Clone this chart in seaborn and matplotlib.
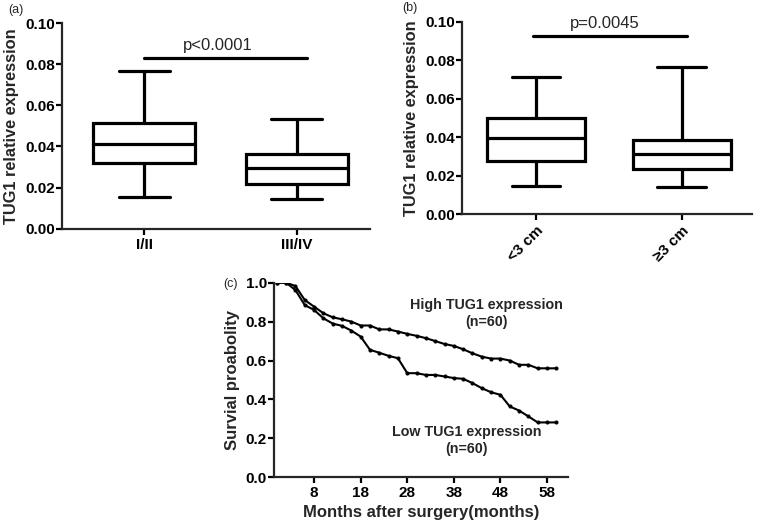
import numpy as np
import pandas as pd
import matplotlib
matplotlib.use("Agg")
import matplotlib.pyplot as plt
import seaborn as sns

# Box summaries: min, Q1, median, Q3, max
stage_groups = ["I/II", "III/IV"]
stage_I_II = [0.0153, 0.0318, 0.0412, 0.0513, 0.0768]
stage_III_IV = [0.0146, 0.0219, 0.0294, 0.0364, 0.0532]
stage_p = "p<0.0001"

size_groups = ["<3 cm", "\u22653 cm"]
size_small = [0.0149, 0.0279, 0.0394, 0.0498, 0.0715]
size_large = [0.0144, 0.0234, 0.0312, 0.0386, 0.0766]
size_p = "p=0.0045"

# Survival curves (c)
months = [0, 2, 4, 6, 8, 10, 12, 14, 16, 18, 20, 22, 24, 26, 28, 30,
          32, 34, 36, 38, 40, 42, 44, 46, 48, 50, 52, 54, 56, 58, 60]
surv_high = [1.0, 1.0, 0.983, 0.911, 0.877, 0.843, 0.822, 0.812, 0.80, 0.78,
             0.78, 0.76, 0.76, 0.749, 0.737, 0.727, 0.715, 0.70, 0.685, 0.675,
             0.658, 0.637, 0.62, 0.61, 0.61, 0.60, 0.578, 0.578, 0.56, 0.56, 0.56]
surv_low = [1.0, 1.0, 0.962, 0.885, 0.86, 0.817, 0.79, 0.778, 0.754, 0.723,
            0.655, 0.64, 0.624, 0.612, 0.535, 0.535, 0.526, 0.526, 0.518, 0.51,
            0.506, 0.484, 0.458, 0.437, 0.424, 0.364, 0.343, 0.313, 0.282, 0.282, 0.282]

sns.set_style("ticks")
plt.rcParams['font.family'] = ['Liberation Sans', 'DejaVu Sans']
plt.rcParams['axes.linewidth'] = 1.6
plt.rcParams['xtick.major.width'] = 1.6
plt.rcParams['ytick.major.width'] = 1.6
plt.rcParams['xtick.major.size'] = 4
plt.rcParams['ytick.major.size'] = 4
plt.rcParams['xtick.major.pad'] = 2.5
plt.rcParams['ytick.major.pad'] = 1.2
plt.rcParams['xtick.color'] = 'black'
plt.rcParams['ytick.color'] = 'black'

fig = plt.figure(figsize=(7.6, 5.28), dpi=100)
ax_a = fig.add_axes([62 / 760, 0.567, 308 / 760, 0.389])
ax_b = fig.add_axes([462 / 760, 0.594, 290 / 760, 0.365])
ax_c = fig.add_axes([274 / 760, 0.096, 294 / 760, 0.3686])


def box_panel(ax, groups, vals1, vals2, ptext, pline, ptxt_x, ptxt_y, xlim):
    df = pd.DataFrame({
        "group": [groups[0]] * len(vals1) + [groups[1]] * len(vals2),
        "value": vals1 + vals2,
    })
    sns.boxplot(data=df, x="group", y="value", order=groups, whis=(0, 100),
                width=0.67, color="white", linecolor="black", linewidth=2.3,
                fliersize=0, ax=ax)
    ax.set_ylim(0, 0.10)
    ax.set_yticks([0, 0.02, 0.04, 0.06, 0.08, 0.10])
    ax.set_yticklabels(["0.00", "0.02", "0.04", "0.06", "0.08", "0.10"])
    ax.set_xlim(*xlim)
    ax.set_xlabel("")
    ax.set_ylabel("TUG1 relative expression", fontsize=11.8, fontweight="bold",
                  labelpad=4)
    ax.plot(pline[:2], [pline[2], pline[2]], color="black", lw=2.3)
    ax.text(ptxt_x, ptxt_y, ptext, ha="center", va="bottom", fontsize=12)
    sns.despine(ax=ax)
    for lab in ax.get_yticklabels() + ax.get_xticklabels():
        lab.set_fontweight("bold")
        lab.set_fontsize(11)


box_panel(ax_a, stage_groups, stage_I_II, stage_III_IV, stage_p,
          (0.0, 1.07, 0.083), 0.485, 0.0855, (-0.54, 1.48))
box_panel(ax_b, size_groups, size_small, size_large, size_p,
          (-0.02, 1.036, 0.0927), 0.468, 0.0953, (-0.507, 1.48))
for lab in ax_b.get_xticklabels():
    lab.set_rotation(45)
    lab.set_ha("right")
    lab.set_rotation_mode("anchor")

# Survival panel
surv = pd.DataFrame({
    "month": months * 2,
    "prob": surv_high + surv_low,
    "group": ["High"] * len(months) + ["Low"] * len(months),
})
sns.lineplot(data=surv, x="month", y="prob", hue="group",
             palette={"High": "black", "Low": "black"}, marker="o",
             markersize=2.2, markeredgecolor="black", linewidth=1.5,
             legend=False, ax=ax_c)
ax_c.set_xlim(-0.6, 62.5)
ax_c.set_ylim(0, 1.0)
ax_c.set_xticks([8, 18, 28, 38, 48, 58])
ax_c.set_yticks([0.0, 0.2, 0.4, 0.6, 0.8, 1.0])
ax_c.set_yticklabels(["0.0", "0.2", "0.4", "0.6", "0.8", "1.0"])
ax_c.set_xlabel("Months after surgery(months)", fontsize=12, fontweight="bold",
                labelpad=3)
ax_c.set_ylabel("Survial proabolity", fontsize=12, fontweight="bold", labelpad=4)
for lab in ax_c.get_yticklabels() + ax_c.get_xticklabels():
    lab.set_fontweight("bold")
    lab.set_fontsize(11)
sns.despine(ax=ax_c)
ax_c.text(45.0, 0.84, "High TUG1 expression\n(n=60)", ha="center", va="center",
          fontsize=10.3, fontweight="bold", linespacing=1.3)
ax_c.text(40.8, 0.19, "Low TUG1 expression\n(n=60)", ha="center", va="center",
          fontsize=10.3, fontweight="bold", linespacing=1.3)

fig.text(8 / 760, 1 - 10 / 528, "(a)", fontsize=9, va="center", ha="left")
fig.text(402 / 760, 1 - 8 / 528, "(b)", fontsize=9, va="center", ha="left")
fig.text(223 / 760, 1 - 284 / 528, "(c)", fontsize=9, va="center", ha="left")

fig.savefig("out.png", dpi=100)
